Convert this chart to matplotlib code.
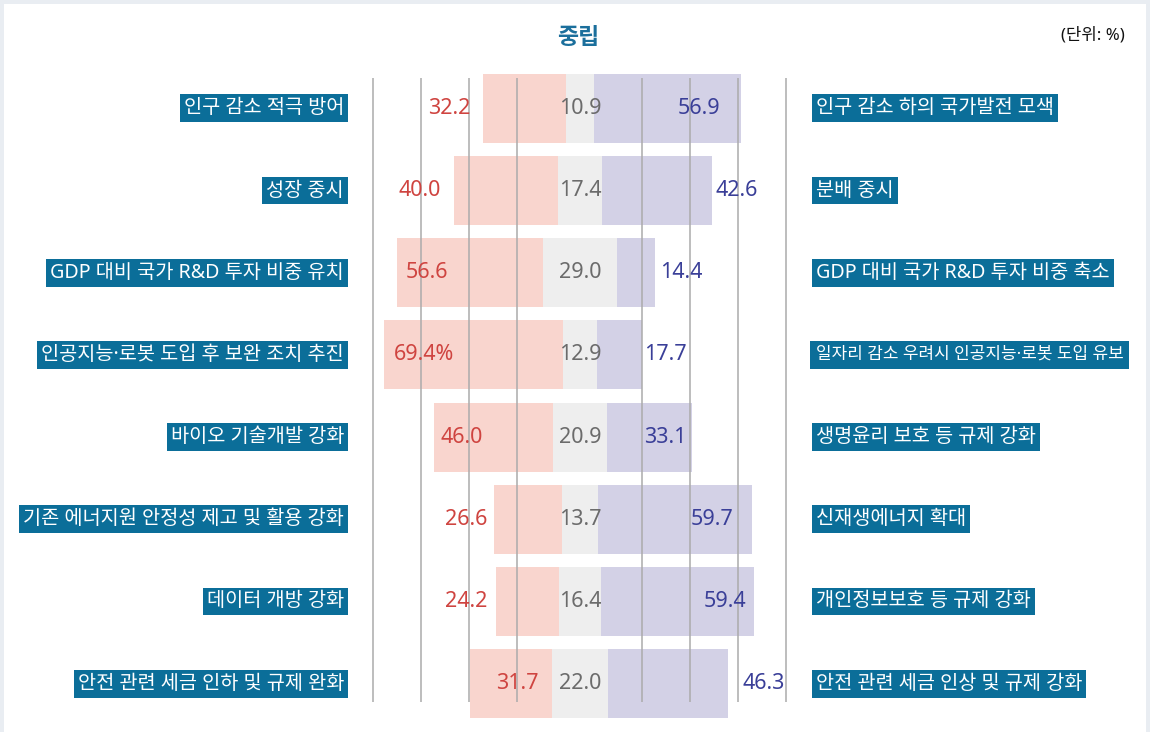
import matplotlib.pyplot as plt
from matplotlib.patches import Rectangle

plt.rcParams["font.family"] = ["Noto Sans CJK KR", "DejaVu Sans"]

# Data: share of respondents (%) choosing left option / neutral / right option
left_labels = [
    "인구 감소 적극 방어",
    "성장 중시",
    "GDP 대비 국가 R&D 투자 비중 유치",
    "인공지능·로봇 도입 후 보완 조치 추진",
    "바이오 기술개발 강화",
    "기존 에너지원 안정성 제고 및 활용 강화",
    "데이터 개방 강화",
    "안전 관련 세금 인하 및 규제 완화",
]
right_labels = [
    "인구 감소 하의 국가발전 모색",
    "분배 중시",
    "GDP 대비 국가 R&D 투자 비중 축소",
    "일자리 감소 우려시 인공지능·로봇 도입 유보",
    "생명윤리 보호 등 규제 강화",
    "신재생에너지 확대",
    "개인정보보호 등 규제 강화",
    "안전 관련 세금 인상 및 규제 강화",
]
left_vals = [32.2, 40.0, 56.6, 69.4, 46.0, 26.6, 24.2, 31.7]
neutral_vals = [10.9, 17.4, 29.0, 12.9, 20.9, 13.7, 16.4, 22.0]
right_vals = [56.9, 42.6, 14.4, 17.7, 33.1, 59.7, 59.4, 46.3]
left_text = ["32.2", "40.0", "56.6", "69.4%", "46.0", "26.6", "24.2", "31.7"]

# Layout (data units, % offset from neutral centre) for value labels
left_label_x = [-50.8, -62.0, -59.3, -60.5, -45.7, -44.2, -44.2, -24.4]
right_label_x = [46.1, 60.9, 39.1, 32.9, 32.9, 51.2, 56.2, 71.3]
grid_x = [-80.4, -61.8, -43.2, -24.6, 24.0, 42.6, 61.2, 79.8]

colors = {
    "frame": "#e9edf2",
    "left": "#f9d5ce",
    "neutral": "#eeeeee",
    "right": "#d3d1e6",
    "left_text": "#cf4440",
    "neutral_text": "#6b6b6b",
    "right_text": "#3a3f98",
    "label_box": "#0b6e99",
    "title": "#1b6f9c",
    "grid": "#ababab",
}
label_family = ["Noto Sans", "Noto Sans CJK KR"]
label_size = 14.2

fig = plt.figure(figsize=(11.5, 7.32), dpi=100)
fig.patch.set_facecolor(colors["frame"])
fig.add_artist(Rectangle((4 / 1150, 0), 1142 / 1150, 728 / 732,
                         transform=fig.transFigure, facecolor="white",
                         edgecolor="none", zorder=0))

ax = fig.add_axes([0, 0, 1, 1])
ax.set_facecolor("none")
ax.set_xlim(-580 / 2.58, 570 / 2.58)
ax.set_ylim((732 - 108.3) / 82.2, -108.3 / 82.2)
ax.axis("off")

n = len(left_vals)
rows = list(range(n))
starts = [-(l + m / 2) for l, m in zip(left_vals, neutral_vals)]
mid_starts = [-m / 2 for m in neutral_vals]
right_starts = [m / 2 for m in neutral_vals]

ax.barh(rows, left_vals, left=starts, height=0.84, color=colors["left"], zorder=1)
ax.barh(rows, neutral_vals, left=mid_starts, height=0.84, color=colors["neutral"], zorder=1)
ax.barh(rows, right_vals, left=right_starts, height=0.84, color=colors["right"], zorder=1)

ax.vlines(grid_x, -0.37, n - 1 + 0.22, color=colors["grid"], linewidth=1.1, zorder=2)

right_texts = []
for i in rows:
    ax.text(left_label_x[i], i, left_text[i], ha="center", va="center",
            fontsize=15.5, color=colors["left_text"], family="Noto Sans", zorder=3)
    ax.text(0, i, f"{neutral_vals[i]:.1f}", ha="center", va="center",
            fontsize=15.5, color=colors["neutral_text"], family="Noto Sans", zorder=3)
    ax.text(right_label_x[i], i, f"{right_vals[i]:.1f}", ha="center", va="center",
            fontsize=15.5, color=colors["right_text"], family="Noto Sans", zorder=3)

    box = dict(boxstyle="square,pad=0.2", facecolor=colors["label_box"], edgecolor="none")
    ax.text(-91.5, i, left_labels[i], ha="right", va="center", fontsize=label_size,
            color="white", family=label_family, bbox=box, zorder=3)
    t = ax.text(91.5, i, right_labels[i], ha="left", va="center", fontsize=label_size,
                color="white", family=label_family, bbox=box, zorder=3)
    right_texts.append(t)

# shrink any right label that would run past the white panel,
# keeping its box about as tall as the others
renderer = fig.canvas.get_renderer()
for t in right_texts:
    size = t.get_fontsize()
    while t.get_window_extent(renderer).x1 > 1128 and size > 8:
        size -= 0.2
        t.set_fontsize(size)
    if size < label_size:
        pad = (0.2 * label_size + (label_size - size) * 0.6) / size
        t.get_bbox_patch().set_boxstyle("square", pad=pad)

fig.text(578 / 1150, 1 - 38 / 732, "중립", ha="center", va="center",
         fontsize=16.5, fontweight="bold", color=colors["title"])
fig.text(1125 / 1150, 1 - 35 / 732, "(단위: %)", ha="right", va="center",
         fontsize=12, color="#111111", family=label_family)

fig.savefig("out.png", dpi=100, facecolor=fig.get_facecolor())
